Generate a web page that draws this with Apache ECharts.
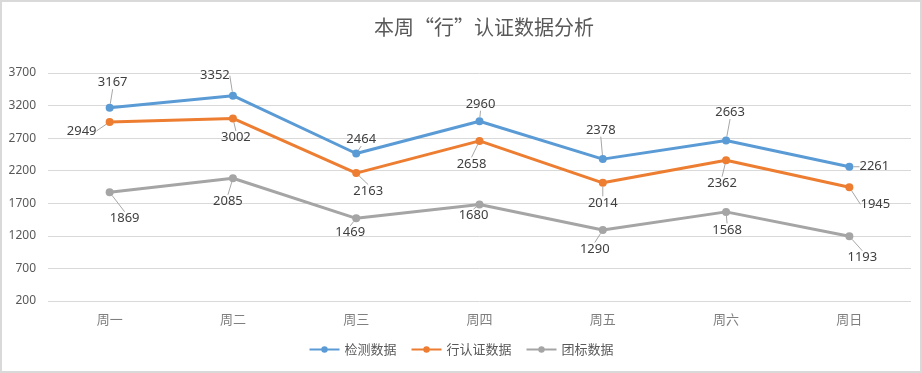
<!DOCTYPE html>
<html><head><meta charset="utf-8">
<script src="https://cdn.jsdelivr.net/npm/echarts@6/dist/echarts.min.js"></script>
<style>
html,body{margin:0;padding:0;background:#fff;}
#c{width:918px;height:369px;border:2px solid #d9d9d9;}
</style></head>
<body><div id="c"></div>
<script>
var titleText = '本周“行”认证数据分析';
var categories = ['周一','周二','周三','周四','周五','周六','周日'];
var seriesNames = ['检测数据','行认证数据','团标数据'];
var jianceData = [3167,3352,2464,2960,2378,2663,2261];
var xingData = [2949,3002,2163,2658,2014,2362,1945];
var tuanbiaoData = [1869,2085,1469,1680,1290,1568,1193];
var yTicks = {min:200, max:3700, interval:500};

// label offsets (style, relative to each point)
var labelOffsets = [
  [[3,-25],[-18,-20],[5,-14],[1,-17],[-2,-29],[4,-28],[25,0]],
  [[-28,9],[3,19],[12,18],[-8,23],[0,20],[-4,23],[26,17]],
  [[15,26],[-5,23],[-6,14],[-6,11],[-8,19],[1,18],[13,21]]
];
var colors = ['#5b9bd5','#ed7d31','#a5a5a5'];
var allData = [jianceData, xingData, tuanbiaoData];

var chart = echarts.init(document.getElementById('c'), null, {renderer:'canvas'});
var series = seriesNames.map(function(n, si){
  return {
    name:n, type:'line', data: allData[si],
    symbol:'circle', symbolSize:8,
    lineStyle:{width:3,color:colors[si]},
    itemStyle:{color:colors[si]},
    label:{show:true, position:'inside', color:'#404040', fontSize:13,
      fontFamily:'"Noto Sans", sans-serif'},
    labelLine:{show:true, lineStyle:{color:'#a6a6a6',width:1}, smooth:false, minTurnAngle:180},
    labelLayout:function(p){
      var o = labelOffsets[si][p.dataIndex];
      return {dx:o[0], dy:o[1]};
    },
    z: 3 - si
  };
});
chart.setOption({
  animation:false,
  color: colors,
  title:{text:titleText, left:367, top:10,
    textStyle:{color:'#595959', fontSize:20, fontWeight:'normal', fontFamily:'"Noto Sans CJK SC", sans-serif'}},
  legend:{bottom:10, left:'center', itemWidth:30, itemHeight:8, itemGap:14,
    textStyle:{color:'#595959', fontSize:13, fontFamily:'"Noto Sans CJK SC", sans-serif'}},
  grid:{left:46, right:9, top:71, bottom:70},
  xAxis:{type:'category', data:categories, boundaryGap:true,
    axisLine:{show:false}, axisTick:{show:false},
    axisLabel:{color:'#7f7f7f', fontSize:13, margin:12, fontFamily:'"Noto Sans CJK SC", sans-serif'}},
  yAxis:{type:'value', min:yTicks.min, max:yTicks.max, interval:yTicks.interval,
    axisLine:{show:false}, axisTick:{show:false},
    splitLine:{lineStyle:{color:'#d9d9d9', width:1}},
    axisLabel:{color:'#595959', fontSize:12, margin:12, fontFamily:'"Noto Sans", sans-serif',
      formatter:function(v){return String(v);}}},
  series: series
});
</script></body></html>
